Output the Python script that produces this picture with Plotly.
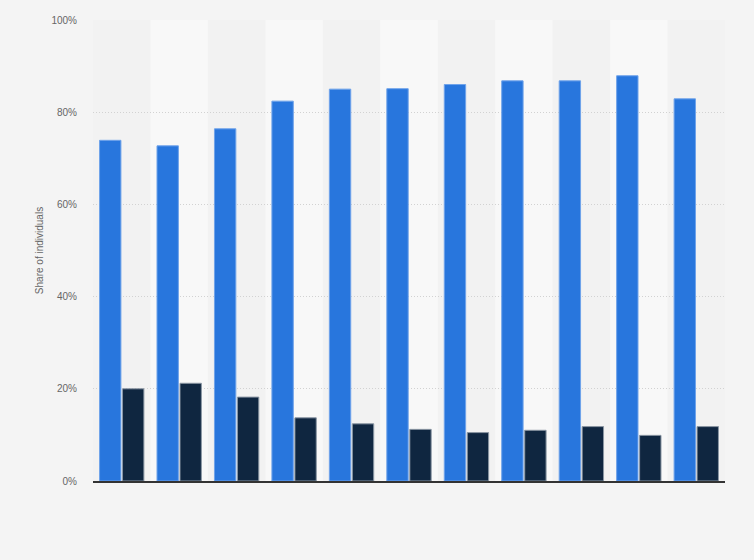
import plotly.graph_objects as go

categories = ["G1", "G2", "G3", "G4", "G5", "G6", "G7", "G8", "G9", "G10", "G11"]
series_a = [73.9, 72.7, 76.4, 82.4, 85.0, 85.1, 86.0, 86.8, 86.8, 87.9, 82.9]
series_b = [20.0, 21.2, 18.2, 13.7, 12.4, 11.2, 10.5, 11.0, 11.8, 9.9, 11.8]
y_ticks = [0, 20, 40, 60, 80, 100]
y_tick_labels = ["0%", "20%", "40%", "60%", "80%", "100%"]

fig = go.Figure()
fig.add_trace(go.Bar(
    x=categories, y=series_a, name="Series A",
    marker=dict(color="#2876dd", line=dict(color="#6fa3ea", width=1)),
))
fig.add_trace(go.Bar(
    x=categories, y=series_b, name="Series B",
    marker=dict(color="#0f2640", line=dict(color="#8a96a3", width=1)),
))

# alternating column bands
shapes = []
for i in range(len(categories)):
    if i % 2 == 1:
        shapes.append(dict(
            type="rect", xref="x", yref="y",
            x0=i - 0.5, x1=i + 0.5, y0=0, y1=100,
            fillcolor="#f8f8f8", line=dict(width=0), layer="below",
        ))

fig.update_layout(
    width=754, height=560,
    margin=dict(l=93, r=29, t=20, b=79),
    paper_bgcolor="#f4f4f4",
    plot_bgcolor="#f2f2f2",
    barmode="group",
    bargap=0.2,
    bargroupgap=0.07,
    showlegend=False,
    shapes=shapes,
    font=dict(family="Liberation Sans, Arial, sans-serif", size=10, color="#666666"),
    xaxis=dict(
        showticklabels=False, showgrid=False, zeroline=False,
        showline=True, linecolor="#333333", linewidth=1.5,
        range=[-0.5, len(categories) - 0.5], fixedrange=True,
    ),
    yaxis=dict(
        range=[0, 100], tickvals=y_ticks, ticktext=y_tick_labels,
        showgrid=True, gridcolor="#d2d2d2", griddash="1px,2px", gridwidth=1,
        zeroline=False, showline=False, ticks="", ticklen=0,
        ticklabelstandoff=15,
        tickfont=dict(size=10, color="#666666"),
        title=dict(text="Share of individuals", font=dict(size=10, color="#666666"), standoff=5),
    ),
)

fig.write_html(
    "out.html",
    config={"displayModeBar": False},
    post_script="document.body.style.margin='0';document.body.style.background='#f4f4f4';",
)
